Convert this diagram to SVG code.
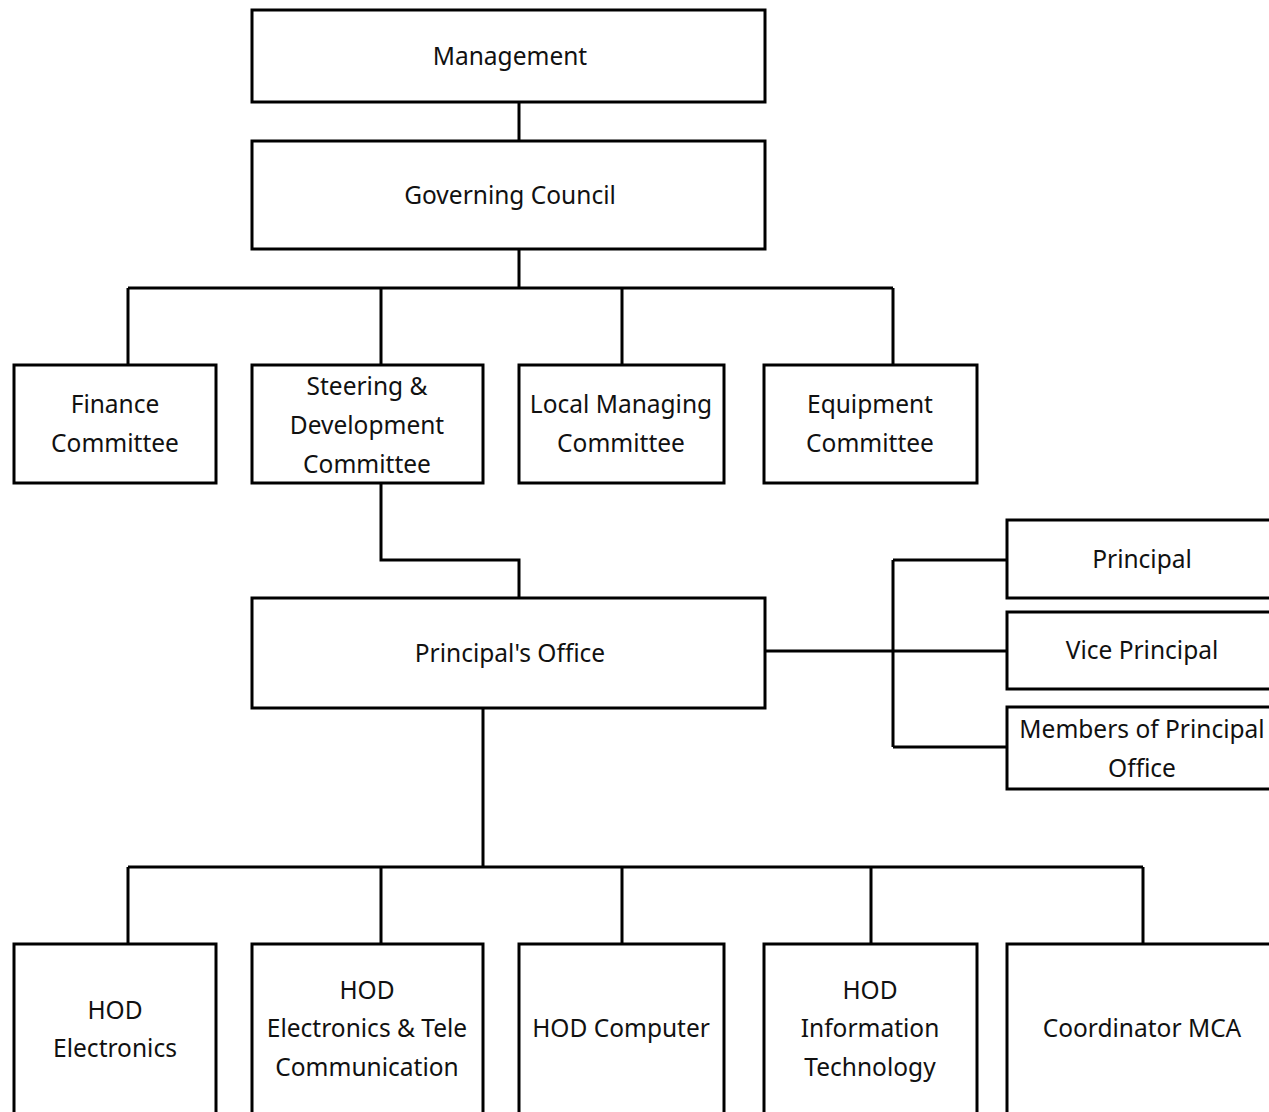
<svg xmlns="http://www.w3.org/2000/svg" width="1269" height="1112" viewBox="0 0 1269 1112">
<style>
.box{fill:#fff;stroke:#000;stroke-width:3}
.ln{fill:none;stroke:#000;stroke-width:3}
text{font-family:"Noto Sans","Open Sans",sans-serif;font-size:24.5px;fill:#111;text-anchor:middle}
</style>
<rect x="0" y="0" width="1269" height="1112" fill="#fff"/>
<g id="connectors">
<path class="ln" d="M519 102V141"/>
<path class="ln" d="M519 249V288M128 288H893M128 288V365M381 288V365M622 288V365M893 288V365"/>
<path class="ln" d="M381 483V560H519V598"/>
<path class="ln" d="M765 651H1007M893 560V747M893 560H1007M893 747H1007"/>
<path class="ln" d="M483 708V867M128 867H1143M128 867V944M381 867V944M622 867V944M871 867V944M1143 867V944"/>
</g>
<g id="management"><rect class="box" x="252" y="10" width="513" height="92"/><text x="510" y="65">Management</text></g>
<g id="governing"><rect class="box" x="252" y="141" width="513" height="108"/><text x="510" y="204">Governing Council</text></g>
<g id="finance"><rect class="box" x="14" y="365" width="202" height="118"/><text x="115" y="413">Finance</text><text x="115" y="452">Committee</text></g>
<g id="steering"><rect class="box" x="252" y="365" width="231" height="118"/><text x="367" y="395">Steering &amp;</text><text x="367" y="434">Development</text><text x="367" y="473">Committee</text></g>
<g id="local"><rect class="box" x="519" y="365" width="205" height="118"/><text x="621" y="413">Local Managing</text><text x="621" y="452">Committee</text></g>
<g id="equipment"><rect class="box" x="764" y="365" width="213" height="118"/><text x="870" y="413">Equipment</text><text x="870" y="452">Committee</text></g>
<g id="principals-office"><rect class="box" x="252" y="598" width="513" height="110"/><text x="510" y="662">Principal's Office</text></g>
<g id="principal"><rect class="box" x="1007" y="520" width="290" height="78"/><text x="1142" y="568">Principal</text></g>
<g id="vice"><rect class="box" x="1007" y="612" width="290" height="77"/><text x="1142" y="659">Vice Principal</text></g>
<g id="members"><rect class="box" x="1007" y="707" width="290" height="82"/><text x="1142" y="738">Members of Principal</text><text x="1142" y="777">Office</text></g>
<g id="hod-electronics"><rect class="box" x="14" y="944" width="202" height="190"/><text x="115" y="1019">HOD</text><text x="115" y="1057">Electronics</text></g>
<g id="hod-entc"><rect class="box" x="252" y="944" width="231" height="190"/><text x="367" y="999">HOD</text><text x="367" y="1037">Electronics &amp; Tele</text><text x="367" y="1076">Communication</text></g>
<g id="hod-computer"><rect class="box" x="519" y="944" width="205" height="190"/><text x="621" y="1037">HOD Computer</text></g>
<g id="hod-it"><rect class="box" x="764" y="944" width="213" height="190"/><text x="870" y="999">HOD</text><text x="870" y="1037">Information</text><text x="870" y="1076">Technology</text></g>
<g id="coordinator"><rect class="box" x="1007" y="944" width="290" height="190"/><text x="1142" y="1037">Coordinator MCA</text></g>
</svg>
